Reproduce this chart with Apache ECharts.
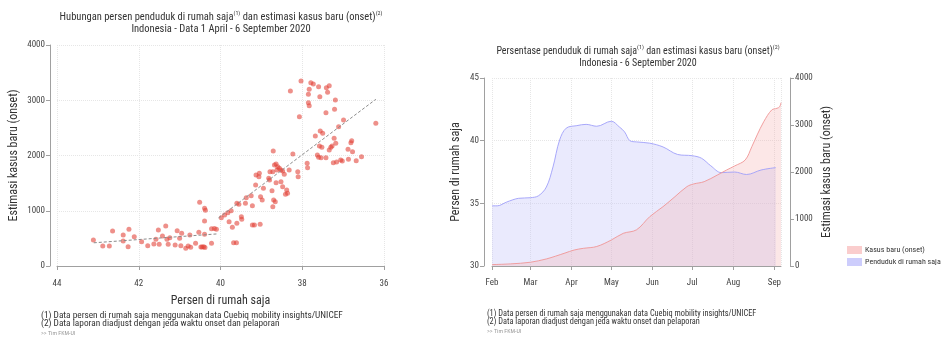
<!DOCTYPE html>
<html><head><meta charset="utf-8">
<script src="https://cdn.jsdelivr.net/npm/echarts@6/dist/echarts.min.js"></script>
<style>html,body{margin:0;padding:0;background:#fff}#c{width:943px;height:341px}</style>
</head><body><div id="c"></div>
<script>
// ---- Left chart: scatter (percent at home vs. estimated onset cases) ----
const homePct = [43.11,42.88,42.72,42.64,42.38,42.38,42.24,42.26,42.11,41.93,41.78,41.58,41.52,41.63,41.50,41.42,41.34,41.31,41.24,41.28,41.11,41.06,41.00,40.95,40.97,40.85,40.79,40.73,40.75,40.61,40.53,40.51,40.39,40.37,40.39,40.39,40.48,40.45,40.41,40.38,40.22,40.22,40.15,40.10,39.98,39.90,39.82,39.74,39.79,39.71,39.68,39.61,39.60,39.60,
39.49,39.48,39.55,39.37,39.39,39.25,39.22,39.22,39.17,39.03,39.14,39.13,39.06,39.05,39.02,38.98,38.95,38.82,38.80,38.74,38.72,38.70,38.66,38.71,38.68,38.64,38.60,38.56,38.52,38.48,38.72,38.79,38.44,38.62,38.64,38.52,38.48,38.38,38.36,38.41,38.32,38.23,38.11,38.10,38.07,38.29,38.03,37.88,37.87,37.85,37.83,37.79,37.73,37.85,37.83,37.68,37.60,37.57,37.63,37.60,37.54,37.58,37.52,37.56,37.50,37.42,37.42,37.41,37.34,37.38,37.34,37.30,37.27,37.22,37.18,37.19,37.21,37.24,37.16,37.06,37.02,37.11,36.99,36.87,36.88,36.81,36.79,36.77,36.68,36.55,36.20];
const onsetCases = [470,362,362,634,561,452,664,350,531,440,367,483,652,398,393,543,724,483,512,393,380,639,501,592,367,320,362,338,561,411,610,1153,1044,1010,815,574,345,345,350,335,411,675,680,665,874,923,965,1001,802,700,422,422,1135,773,
892,845,1117,1236,1135,1272,1091,742,742,755,1466,1647,1616,1678,1254,1195,1406,1587,1557,1363,1073,1195,1164,2082,1828,1846,1797,1768,1738,1720,1707,1707,1660,1738,1508,1526,1435,1376,1316,1298,1738,2027,1707,1616,2702,3168,3349,1859,1779,3108,3198,3318,3294,2956,2902,2353,3245,3064,2009,1967,1960,2172,2148,2444,2402,1960,2775,3227,3263,3144,2100,2148,2172,2311,2221,3005,2836,1870,1882,1919,1900,2521,2643,1931,2112,2232,2268,2069,1906,1978,2583];
// fitted trend (two segments)
const fit1X = [43.1, 40.1];
const fit1Y = [420, 580];
const fit2X = [40.05, 36.2];
const fit2Y = [870, 3017];
const leftXTicks = [44, 42, 40, 38, 36];

// ---- Right chart: time series ----
const homeDates = ['2020-02-01','2020-02-05','2020-02-12','2020-02-21','2020-03-01','2020-03-07','2020-03-13','2020-03-18','2020-03-23','2020-03-28','2020-04-05','2020-04-12','2020-04-20','2020-05-01','2020-05-07','2020-05-11','2020-05-15','2020-05-20','2020-05-30','2020-06-09','2020-06-20','2020-07-01','2020-07-08','2020-07-15','2020-07-23','2020-08-02','2020-08-11','2020-08-22','2020-09-02'];
const homeValues = [34.8,34.8,35.1,35.4,35.45,35.6,36.3,37.9,40.05,41.0,41.2,41.3,41.15,41.55,41.1,40.7,40.0,39.9,39.8,39.5,38.9,38.8,38.6,38.0,37.45,37.5,37.3,37.66,37.85];
const caseDates = ['2020-02-01','2020-02-15','2020-03-01','2020-03-13','2020-03-20','2020-03-27','2020-04-03','2020-04-10','2020-04-20','2020-05-01','2020-05-10','2020-05-20','2020-05-30','2020-06-09','2020-06-18','2020-06-27','2020-07-02','2020-07-10','2020-07-20','2020-07-27','2020-08-02','2020-08-10','2020-08-15','2020-08-19','2020-08-24','2020-08-30','2020-09-03','2020-09-05','2020-09-06'];
const caseValues = [30,45,80,150,210,275,340,376,415,553,695,770,1050,1262,1475,1688,1745,1794,1936,2043,2128,2256,2539,2788,3071,3320,3356,3390,3475];
const monthNames = ['Jan','Feb','Mar','Apr','May','Jun','Jul','Aug','Sep','Oct','Nov','Dec'];

const FONT = "'Roboto Condensed','Liberation Sans Narrow','Roboto',sans-serif";
const chart = echarts.init(document.getElementById('c'), null, {renderer:'canvas'});

const plain = v => String(v);
const axisLbl = {color:'#444', fontSize:9, fontFamily:FONT, formatter:plain};
const axisLn = {show:true, lineStyle:{color:'#a0a0a0', width:1}};
const tick = {show:true, length:4, lineStyle:{color:'#a0a0a0'}};
const split = {show:true, lineStyle:{color:'#e6e6e6', type:'dotted', width:1}};
const nameSt = {color:'#333', fontSize:12, fontFamily:FONT};

function titleLine(x, y, parts, fs) {
  return {type:'text', x:x, y:y, silent:true, style:{
    text: parts, align:'center', verticalAlign:'middle', fill:'#333',
    rich:{a:{fontSize:fs, fontFamily:FONT, fill:'#333', lineHeight:13},
          s:{fontSize:6, fontFamily:FONT, fill:'#333', lineHeight:13, verticalAlign:'top', padding:[0,0,6,0]}}
  }};
}
function note(x, y, t, size, col) {
  return {type:'text', x:x, y:y, silent:true, style:{text:t, fontSize:size, fontFamily:FONT, fill:col, verticalAlign:'middle'}};
}

const option = {
  animation:false,
  backgroundColor:'#fff',
  grid:[
    {left:57, right:559, top:45, bottom:75},
    {left:492, right:162, top:78, bottom:75}
  ],
  xAxis:[
    {gridIndex:0, type:'value', inverse:true, min:36, max:44, interval:2, offset:7,
     axisLine:axisLn, axisTick:tick, splitLine:split, axisLabel:Object.assign({}, axisLbl, {margin:6}),
     name:'Persen di rumah saja', nameLocation:'middle', nameGap:22, nameTextStyle:nameSt},
    {gridIndex:1, type:'time', min:'2020-02-01', max:'2020-09-06', offset:6,
     minInterval:28*86400000, maxInterval:31*86400000,
     axisLine:axisLn, axisTick:tick, splitLine:split,
     axisLabel:Object.assign({}, axisLbl, {margin:6, formatter:function(v){return monthNames[new Date(v).getMonth()];}})}
  ],
  yAxis:[
    {gridIndex:0, type:'value', min:0, max:4000, interval:1000, offset:7,
     axisLine:axisLn, axisTick:tick, splitLine:split, axisLabel:Object.assign({}, axisLbl, {margin:5}),
     name:'Estimasi kasus baru (onset)', nameLocation:'middle', nameRotate:90, nameGap:30, nameTextStyle:nameSt},
    {gridIndex:1, type:'value', position:'left', min:30, max:45, interval:5, offset:8,
     axisLine:axisLn, axisTick:tick, splitLine:split, axisLabel:Object.assign({}, axisLbl, {margin:5}),
     name:'Persen di rumah saja', nameLocation:'middle', nameRotate:90, nameGap:22, nameTextStyle:nameSt},
    {gridIndex:1, type:'value', position:'right', min:0, max:4000, interval:1000, offset:9,
     axisLine:axisLn, axisTick:tick, splitLine:{show:false}, axisLabel:Object.assign({}, axisLbl, {margin:5}),
     name:'Estimasi kasus baru (onset)', nameLocation:'middle', nameRotate:90, nameGap:31, nameTextStyle:nameSt}
  ],
  legend:{
    left:842, top:241, orient:'vertical', itemWidth:15, itemHeight:8, itemGap:4, icon:'rect',
    textStyle:{fontSize:8, color:'#333', fontFamily:FONT, padding:[0,0,0,-2]},
    data:['Kasus baru (onset)','Penduduk di rumah saja']
  },
  series:[
    {type:'scatter', xAxisIndex:0, yAxisIndex:0, symbolSize:5,
     itemStyle:{color:'rgba(226,62,52,0.72)'},
     data: homePct.map((x,i)=>[x, onsetCases[i]])},
    {type:'line', xAxisIndex:0, yAxisIndex:0, symbol:'none',
     lineStyle:{color:'#8a8a8a', width:1, type:[3,2]},
     data: fit1X.map((x,i)=>[x, fit1Y[i]])},
    {type:'line', xAxisIndex:0, yAxisIndex:0, symbol:'none',
     lineStyle:{color:'#8a8a8a', width:1, type:[3,2]},
     data: fit2X.map((x,i)=>[x, fit2Y[i]])},
    {name:'Penduduk di rumah saja', type:'line', xAxisIndex:1, yAxisIndex:1, symbol:'none', smooth:0.35,
     lineStyle:{color:'rgba(160,160,250,0.9)', width:1},
     itemStyle:{color:'rgba(205,205,252,1)'},
     areaStyle:{color:'rgba(200,200,250,0.55)', origin:'start'},
     data: homeDates.map((d,i)=>[d, homeValues[i]])},
    {name:'Kasus baru (onset)', type:'line', xAxisIndex:1, yAxisIndex:2, symbol:'none', smooth:0.35,
     lineStyle:{color:'rgba(240,150,150,0.9)', width:1},
     itemStyle:{color:'rgba(250,205,205,1)'},
     areaStyle:{color:'rgba(245,170,170,0.4)', origin:'start'},
     data: caseDates.map((d,i)=>[d, caseValues[i]])}
  ],
  graphic:[
    titleLine(221, 17, '{a|Hubungan persen penduduk di rumah saja}{s|(1)}{a| dan estimasi kasus baru (onset)}{s|(2)}', 10.5),
    titleLine(221, 29, '{a|Indonesia - Data 1 April - 6 September 2020}', 10.5),
    titleLine(638, 51, '{a|Persentase penduduk di rumah saja}{s|(1)}{a| dan estimasi kasus baru (onset)}{s|(2)}', 10),
    titleLine(638, 63, '{a|Indonesia - 6 September 2020}', 10),
    note(41, 316, '(1) Data persen di rumah saja menggunakan data Cuebiq mobility insights/UNICEF', 9.3, '#333'),
    note(41, 324, '(2) Data laporan diadjust dengan jeda waktu onset dan pelaporan', 9.3, '#333'),
    note(41, 333, '>> Tim FKM-UI', 6, '#999'),
    note(487, 314, '(1) Data persen di rumah saja menggunakan data Cuebiq mobility insights/UNICEF', 8.3, '#333'),
    note(487, 322, '(2) Data laporan diadjust dengan jeda waktu onset dan pelaporan', 8.3, '#333'),
    note(487, 331, '>> Tim FKM-UI', 6, '#999')
  ]
};
chart.setOption(option);
</script></body></html>
